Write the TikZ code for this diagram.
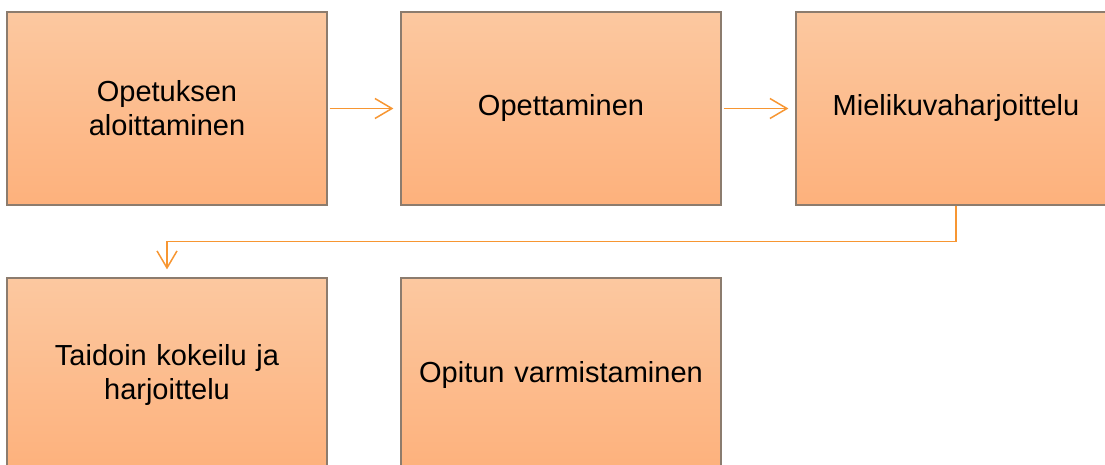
\documentclass[tikz,border=0pt]{standalone}
\usepackage{fontspec}
\setmainfont{Liberation Sans}
\usetikzlibrary{arrows.meta}
\definecolor{boxtop}{RGB}{252,200,160}
\definecolor{boxbot}{RGB}{253,177,124}
\definecolor{boxline}{RGB}{140,124,110}
\definecolor{flow}{RGB}{247,150,50}
\tikzset{
  stage/.style={rectangle, draw=boxline, line width=1.2pt,
    top color=boxtop, bottom color=boxbot,
    minimum width=320pt, minimum height=193pt, inner sep=0pt,
    align=center, text width=300pt,
    font=\fontsize{29pt}{34pt}\selectfont},
  link/.style={draw=flow, line width=1.5pt,
    -{Straight Barb[length=17pt,width=20pt,line width=1.5pt]}}
}
\begin{document}
\begin{tikzpicture}[x=1pt,y=-1pt]
  \useasboundingbox (0,0) rectangle (1105,465);
  \clip (0,0) rectangle (1105,465);
  \node[stage] (b1) at (167,108.5) {Opetuksen\\aloittaminen};
  \node[stage] (b2) at (561,108.5) {Opettaminen};
  \node[stage] (b3) at (956,108.5) {Mielikuvaharjoittelu};
  \node[stage] (b4) at (167,374.5) {Taidoin kokeilu ja\\harjoittelu};
  \node[stage] (b5) at (561,374.5) {Opitun varmistaminen};
  \draw[link, shorten <=2pt, shorten >=7pt] (b1.east) -- (b2.west);
  \draw[link, shorten <=2pt, shorten >=7pt] (b2.east) -- (b3.west);
  \draw[link, shorten >=8pt] (b3.south) -- ++(0,36) -| (b4.north);
\end{tikzpicture}
\end{document}
